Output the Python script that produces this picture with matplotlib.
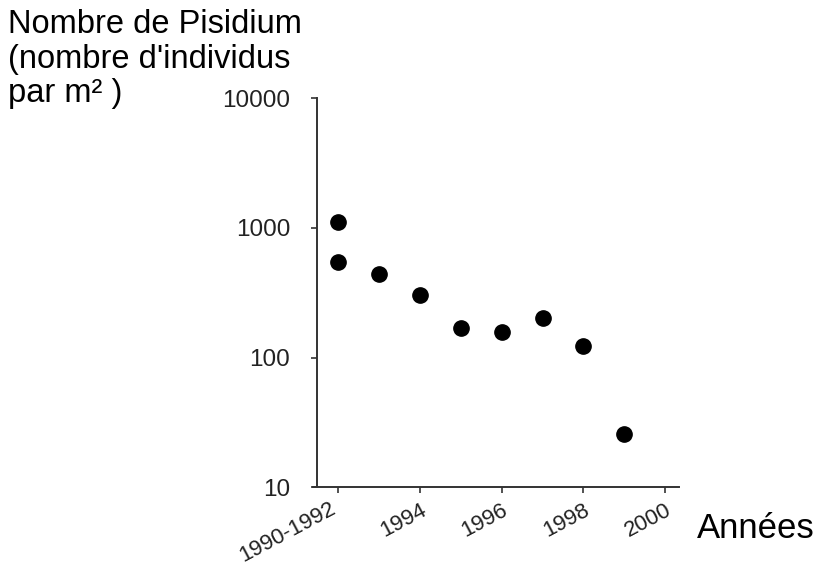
import numpy as np
import matplotlib
matplotlib.use('Agg')
import matplotlib.pyplot as plt
import matplotlib.transforms as mtransforms

# annee (1990-1992 regroupe sous 1992) et densite de Pisidium
years = [1992, 1992, 1993, 1994, 1995, 1996, 1997, 1998, 1999]
counts = [1110, 546, 441, 304, 169, 157, 202, 123, 25.7]

x_ticks = [1992, 1994, 1996, 1998, 2000]
x_labels = ['1990-1992', '1994', '1996', '1998', '2000']
y_ticks = [10, 100, 1000, 10000]
y_labels = ['10', '100', '1000', '10000']

plt.rcParams['font.family'] = ['Liberation Sans', 'DejaVu Sans']

fig = plt.figure(figsize=(8.21, 5.72), dpi=100)
ax = fig.add_axes([0.3812, 0.1486, 0.827 - 0.3812, 0.8278 - 0.1486])

ax.plot(years, counts, 'o', color='black', markersize=11, linestyle='none')

ax.set_yscale('log')
ax.set_ylim(10, 10000)
ax.set_xlim(1991.375, 2000.34)

ax.set_yticks(y_ticks)
ax.set_yticklabels(y_labels)
ax.yaxis.set_minor_locator(matplotlib.ticker.NullLocator())
ax.set_xticks(x_ticks)
ax.set_xticklabels(x_labels, rotation=28, ha='right', rotation_mode='anchor')

for s in ['top', 'right']:
    ax.spines[s].set_visible(False)
for s in ['left', 'bottom']:
    ax.spines[s].set_color('#333333')
    ax.spines[s].set_linewidth(1.4)
# l'axe x depasse un peu a gauche de l'axe y
ax.spines['left'].set_position(('outward', -3.0))

ax.tick_params(axis='y', length=4.3, width=1.2, color='#333333',
               labelsize=17.5, labelcolor='#222222', pad=15)
ax.tick_params(axis='x', length=4.3, width=1.2, color='#333333',
               labelsize=16, labelcolor='#222222', pad=5)

# le premier label est un peu decale vers la gauche
first = ax.get_xticklabels()[0]
first.set_transform(first.get_transform() +
                    mtransforms.ScaledTranslation(-9 / 100, 2 / 100, fig.dpi_scale_trans))

# titre de l'axe y en haut a gauche
title_lines = ['Nombre de Pisidium', "(nombre d'individus", 'par m² )']
baselines = [33, 68, 102]
for line, b in zip(title_lines, baselines):
    fig.text(8 / 821, 1 - b / 572, line, fontsize=23.5, color='black',
             ha='left', va='baseline')

fig.text(697 / 821, 1 - 538 / 572, 'Années', fontsize=25, color='black',
         ha='left', va='baseline')

fig.savefig('out.png', dpi=100)
